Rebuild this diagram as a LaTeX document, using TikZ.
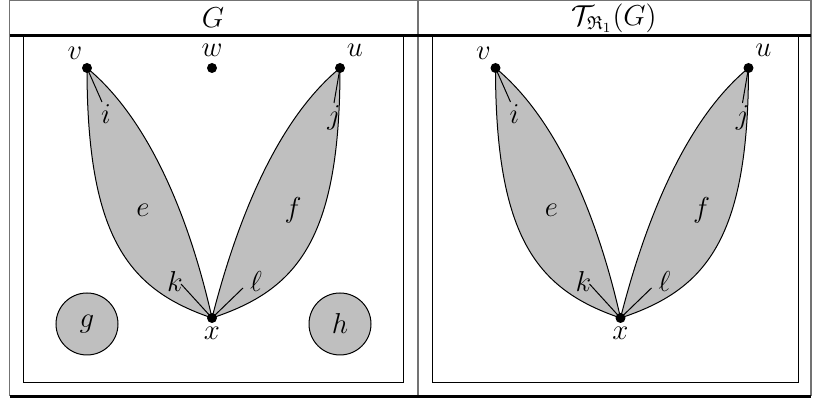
\documentclass[tikz,border=0pt]{standalone}
\usepackage{amssymb}
\usepackage{amsmath}
\begin{document}
\begin{tikzpicture}[x=0.5pt,y=-0.5pt,
  every node/.style={font=\fontsize{13.4}{16}\selectfont},
  dot/.style={circle,fill=black,inner sep=0pt,minimum size=5pt},
  lobe/.style={draw=black,fill=black!25,line width=0.5pt},
  lab/.style={inner sep=1pt},
  frame/.style={draw=black!55,line width=0.7pt}]
\useasboundingbox (0,0) rectangle (816,399);
% table
\draw[frame] (9.5,0.5) -- (811,0.5);
\draw[frame] (9.5,0.5) -- (9.5,396.5);
\draw[frame] (811,0.5) -- (811,396.5);
\draw[frame] (418,0.5) -- (418,396.5);
\draw[line width=1.2pt] (9.5,35.5) -- (811,35.5);
\draw[line width=1.2pt] (9.5,396.5) -- (811,396.5);
\draw[line width=0.5pt] (23,37) rectangle (403,383);
\draw[line width=0.5pt] (432,37) rectangle (798,383);
\node (hG) at (213,18) {$G$};
\node (hT) at (614,18) {$\mathcal{T}_{\mathfrak{R}_1}(G)$};
\foreach \s/\p in {0/L,408.5/R}{
\begin{scope}[xshift=\s*0.5pt]
\coordinate (v\p) at (87,68);
\coordinate (u\p) at (340,68);
\coordinate (x\p) at (212,318);
\draw[lobe] (v\p) .. controls (87,240) and (130,290) .. (x\p) .. controls (190,220) and (150,120) .. (v\p) -- cycle;
\draw[lobe] (u\p) .. controls (340,240) and (297,290) .. (x\p) .. controls (237,220) and (277,120) .. (u\p) -- cycle;
\coordinate (ie\p) at (102,102);
\coordinate (je\p) at (334,103);
\coordinate (ke\p) at (181,284);
\coordinate (le\p) at (243,288);
\draw[line width=0.5pt] (v\p) -- (ie\p);
\draw[line width=0.5pt] (u\p) -- (je\p);
\draw[line width=0.5pt] (x\p) -- (ke\p);
\draw[line width=0.5pt] (x\p) -- (le\p);
\node[lab] (il\p) at (106,114) {$i$};
\node[lab] (jl\p) at (334,118) {$j$};
\node[lab] (kl\p) at (175,282) {$k$};
\node[lab] (ll\p) at (256,282) {$\ell$};
\node[lab] (el\p) at (143,210) {$e$};
\node[lab] (fl\p) at (293,210) {$f$};
\node[dot] (vd\p) at (v\p) {};
\node[dot] (ud\p) at (u\p) {};
\node[dot] (xd\p) at (x\p) {};
\node[lab] (vl\p) at (75,53) {$v$};
\node[lab] (ul\p) at (355,50) {$u$};
\node[lab] (xl\p) at (212,333) {$x$};
\end{scope}
}
\node[dot] (w) at (212,68) {};
\node[lab] (wl) at (212,50) {$w$};
\node[circle,draw=black,fill=black!25,line width=0.5pt,minimum size=31pt,inner sep=0pt] (g) at (87,324) {$g$};
\node[circle,draw=black,fill=black!25,line width=0.5pt,minimum size=31pt,inner sep=0pt] (h) at (340,324) {$h$};
\end{tikzpicture}
\end{document}
